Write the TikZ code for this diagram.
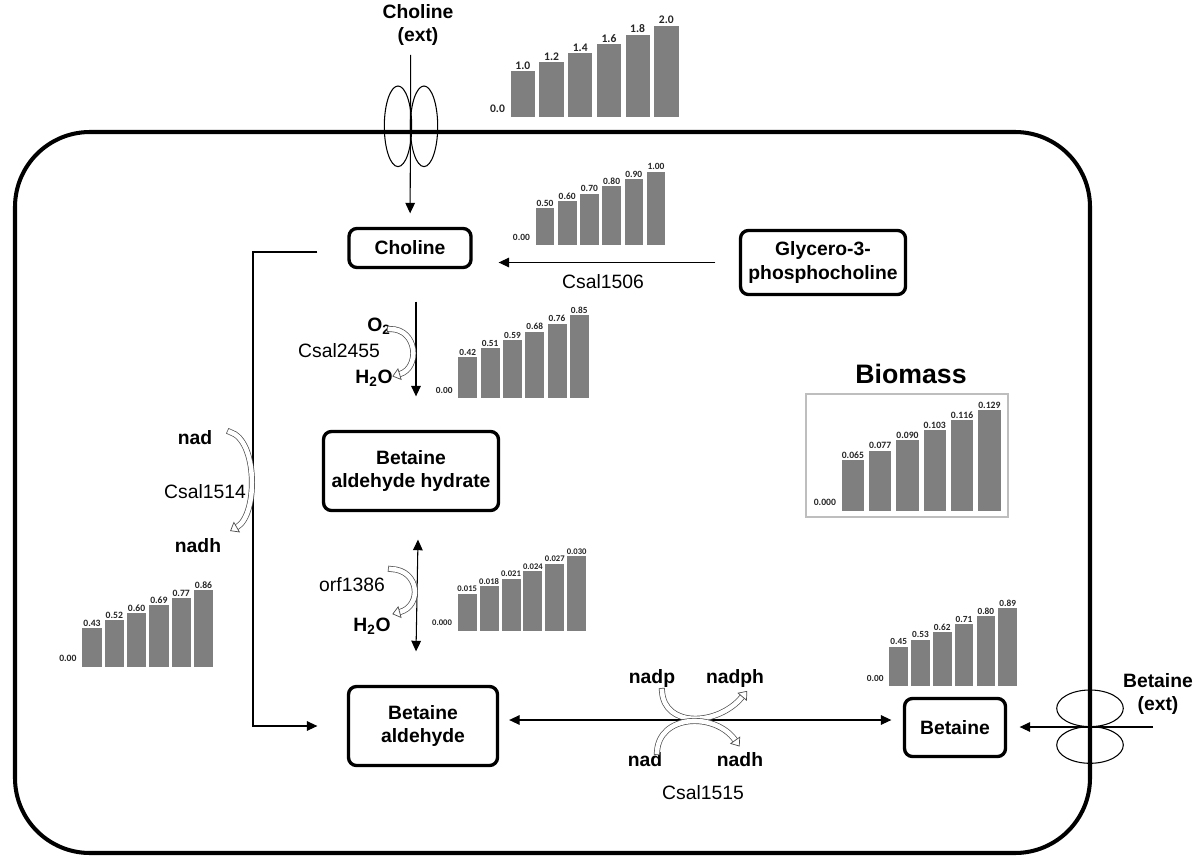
\documentclass[tikz,border=0pt]{standalone}
\usepackage{fontspec}
\setmainfont{Liberation Sans}
\newfontfamily\calibrifont{Carlito}
\usetikzlibrary{arrows.meta,positioning}
\definecolor{barfill}{RGB}{127,127,127}
\definecolor{framegray}{RGB}{190,190,190}

% name, left x, bottom y, pitch, bar width, scale, font size, zero label, values
\newcommand{\fluxbars}[9]{%
  \node[barlab,font={\calibrifont\bfseries\fontsize{#7}{#7}\selectfont},anchor=east] (#1-0) at (#2-4,#3-8) {#8};
  \foreach \v [count=\i] in {#9} {
    \fill[barfill] ({#2+(\i-1)*#4},#3) rectangle ++(#5,{-\v*#6});
    \node[barlab,font={\calibrifont\bfseries\fontsize{#7}{#7}\selectfont},above] (#1-\i) at ({#2+(\i-1)*#4+#5/2},{#3-\v*#6}) {\v};
  }%
}

\begin{document}
\begin{tikzpicture}[x=0.02cm,y=-0.02cm,
  box/.style={draw,rounded corners=4.5pt,line width=1.9pt,align=center,inner sep=2pt,font=\bfseries\fontsize{11}{13.5}\selectfont},
  lab/.style={align=center,inner sep=0pt,font=\bfseries\fontsize{11}{13.5}\selectfont},
  gene/.style={inner sep=0pt,font=\fontsize{11}{13.5}\selectfont},
  arr/.style={-{Triangle[length=6pt,width=5.5pt]},line width=0.6pt},
  dblarr/.style={{Triangle[length=6pt,width=5.5pt]}-{Triangle[length=6pt,width=5.5pt]},line width=0.6pt},
  port/.style={draw,line width=0.6pt},
  barlab/.style={inner sep=0.8pt,text=black!85},
  hollow/.style={white,line width=2.6pt,line cap=rect,preaction={draw=black!70,line width=3.4pt,line cap=rect}},
  hollowtip/.style={draw=black!70,line width=0.4pt,-{Triangle[width=7pt,length=4.5pt,fill=white]}}
]
\useasboundingbox (0,0) rectangle (1200,865);

% cell
\draw[line width=2.3pt,rounded corners=1.5cm] (15,132) rectangle (1090,853);
\draw[port] (398,126.3) ellipse [x radius=13.7,y radius=40.3];
\draw[port] (424,126.3) ellipse [x radius=13.7,y radius=40.3];
\draw[port] (1090,708.3) ellipse [x radius=33.3,y radius=18.3];
\draw[port] (1090,745) ellipse [x radius=33.3,y radius=18.3];

% metabolites
\node[lab] (choext) at (418,25) {Choline\\(ext)};
\coordinate (chin) at (410.7,55);
\node[box,minimum width=2.44cm,minimum height=0.78cm] (choline) at (410,248) {Choline};
\node[box,minimum width=3.3cm,minimum height=1.28cm] (glycero) at (823,262.5) {Glycero-3-\\phosphocholine};
\node[box,minimum width=3.5cm,minimum height=1.58cm] (bah) at (411,471) {Betaine\\aldehyde hydrate};
\node[box,minimum width=2.98cm,minimum height=1.58cm] (bald) at (423,726) {Betaine\\aldehyde};
\node[box,minimum width=2.02cm,minimum height=1.16cm] (betaine) at (955,727.5) {Betaine};
\node[lab] (betext) at (1158,694) {Betaine\\(ext)};
\coordinate (betin) at (1153,727);
\coordinate (bend) at (253,726);

% reactions
\draw[arr,shorten >=0.27cm] (chin) -- (choline);
\draw[arr,shorten <=0.47cm,shorten >=0.52cm] (glycero.west) -- (choline.east |- glycero.west);
\draw[arr] ([shift={(6,32.5)}]choline.south) -- ([shift={(5,-33.5)}]bah.north);
\draw[arr] (choline.west) ++(-30,4) -| (bend) -- ([xshift=-0.59cm]bald.west);
\draw[dblarr] ([shift={(7,27.5)}]bah.south) -- ([shift={(-7,-33.5)}]bald.north);
\draw[dblarr] ([shift={(10,-6)}]bald.east) -- ([shift={(-11.5,-7.5)}]betaine.west);
\draw[arr,shorten >=0.25cm] (betin) -- (betaine.east |- betin);

% cofactors and genes
\node[gene] (csal1506) at (603,282) {Csal1506};
\node[lab] (o2) at (379,326) {O\textsubscript{2}};
\node[gene] (csal2455) at (339,351) {Csal2455};
\node[lab] (h2o) at (374,378) {H\textsubscript{2}O};
\node[lab] (nadl) at (195,438) {nad};
\node[gene] (csal1514) at (205,492) {Csal1514};
\node[lab] (nadhl) at (198,546) {nadh};
\node[gene] (orf1386) at (352,585) {orf1386};
\node[lab] (h2ob) at (372,626) {H\textsubscript{2}O};
\node[lab] (nadp) at (652,678) {nadp};
\node[lab] (nadph) at (735,678) {nadph};
\node[lab] (nadr) at (645,760) {nad};
\node[lab] (nadhr) at (740,760) {nadh};
\node[gene] (csal1515) at (703,793) {Csal1515};

\draw[hollow] (390,329) .. controls (418,329) and (420,368) .. (400,374);
\draw[hollowtip] (400,374) -- (392.3,376.3);
\draw[hollow] (230,432) .. controls (258,440) and (258,515) .. (237,527);
\draw[hollowtip] (237,527) -- (230.1,531);
\draw[hollow] (391,569) .. controls (420,570) and (422,606) .. (400,612);
\draw[hollowtip] (400,612) -- (392.3,614.1);
\draw[hollow] (662,691) .. controls (664,728) and (718,726) .. (742,697);
\draw[hollowtip] (742,697) -- (747.2,690.9);
\draw[hollow] (657,752) .. controls (659,714) and (715,712) .. (735,740);
\draw[hollowtip] (735,740) -- (739.6,746.5);

% flux charts
\fluxbars{fext}{510.7}{116.7}{28.7}{24.3}{45.5}{6.6}{0.0}{1.0,1.2,1.4,1.6,1.8,2.0}
\fluxbars{f1506}{535.7}{245}{22.2}{18.6}{73.3}{5.4}{0.00}{0.50,0.60,0.70,0.80,0.90,1.00}
\fluxbars{f2455}{458.3}{398.3}{22.3}{19}{98}{5.3}{0.00}{0.42,0.51,0.59,0.68,0.76,0.85}
\fluxbars{f1514}{82.3}{666.7}{22.3}{19.4}{89}{5.5}{0.00}{0.43,0.52,0.60,0.69,0.77,0.86}
\fluxbars{f1386}{457.7}{631}{21.9}{19}{2500}{4.9}{0.000}{0.015,0.018,0.021,0.024,0.027,0.030}
\fluxbars{fbet}{889.3}{686}{21.8}{18.7}{87.3}{5.3}{0.00}{0.45,0.53,0.62,0.71,0.80,0.89}

% biomass
\node[lab,font=\bfseries\fontsize{15.2}{18}\selectfont] (biomass) at (911,374) {Biomass};
\node[draw=framegray,line width=0.8pt,minimum width=4.04cm,minimum height=2.46cm] (biobox) at (907,455.5) {};
\fluxbars{fbio}{841.7}{510.7}{27.3}{22.3}{780.6}{5.5}{0.000}{0.065,0.077,0.090,0.103,0.116,0.129}
\end{tikzpicture}
\end{document}
